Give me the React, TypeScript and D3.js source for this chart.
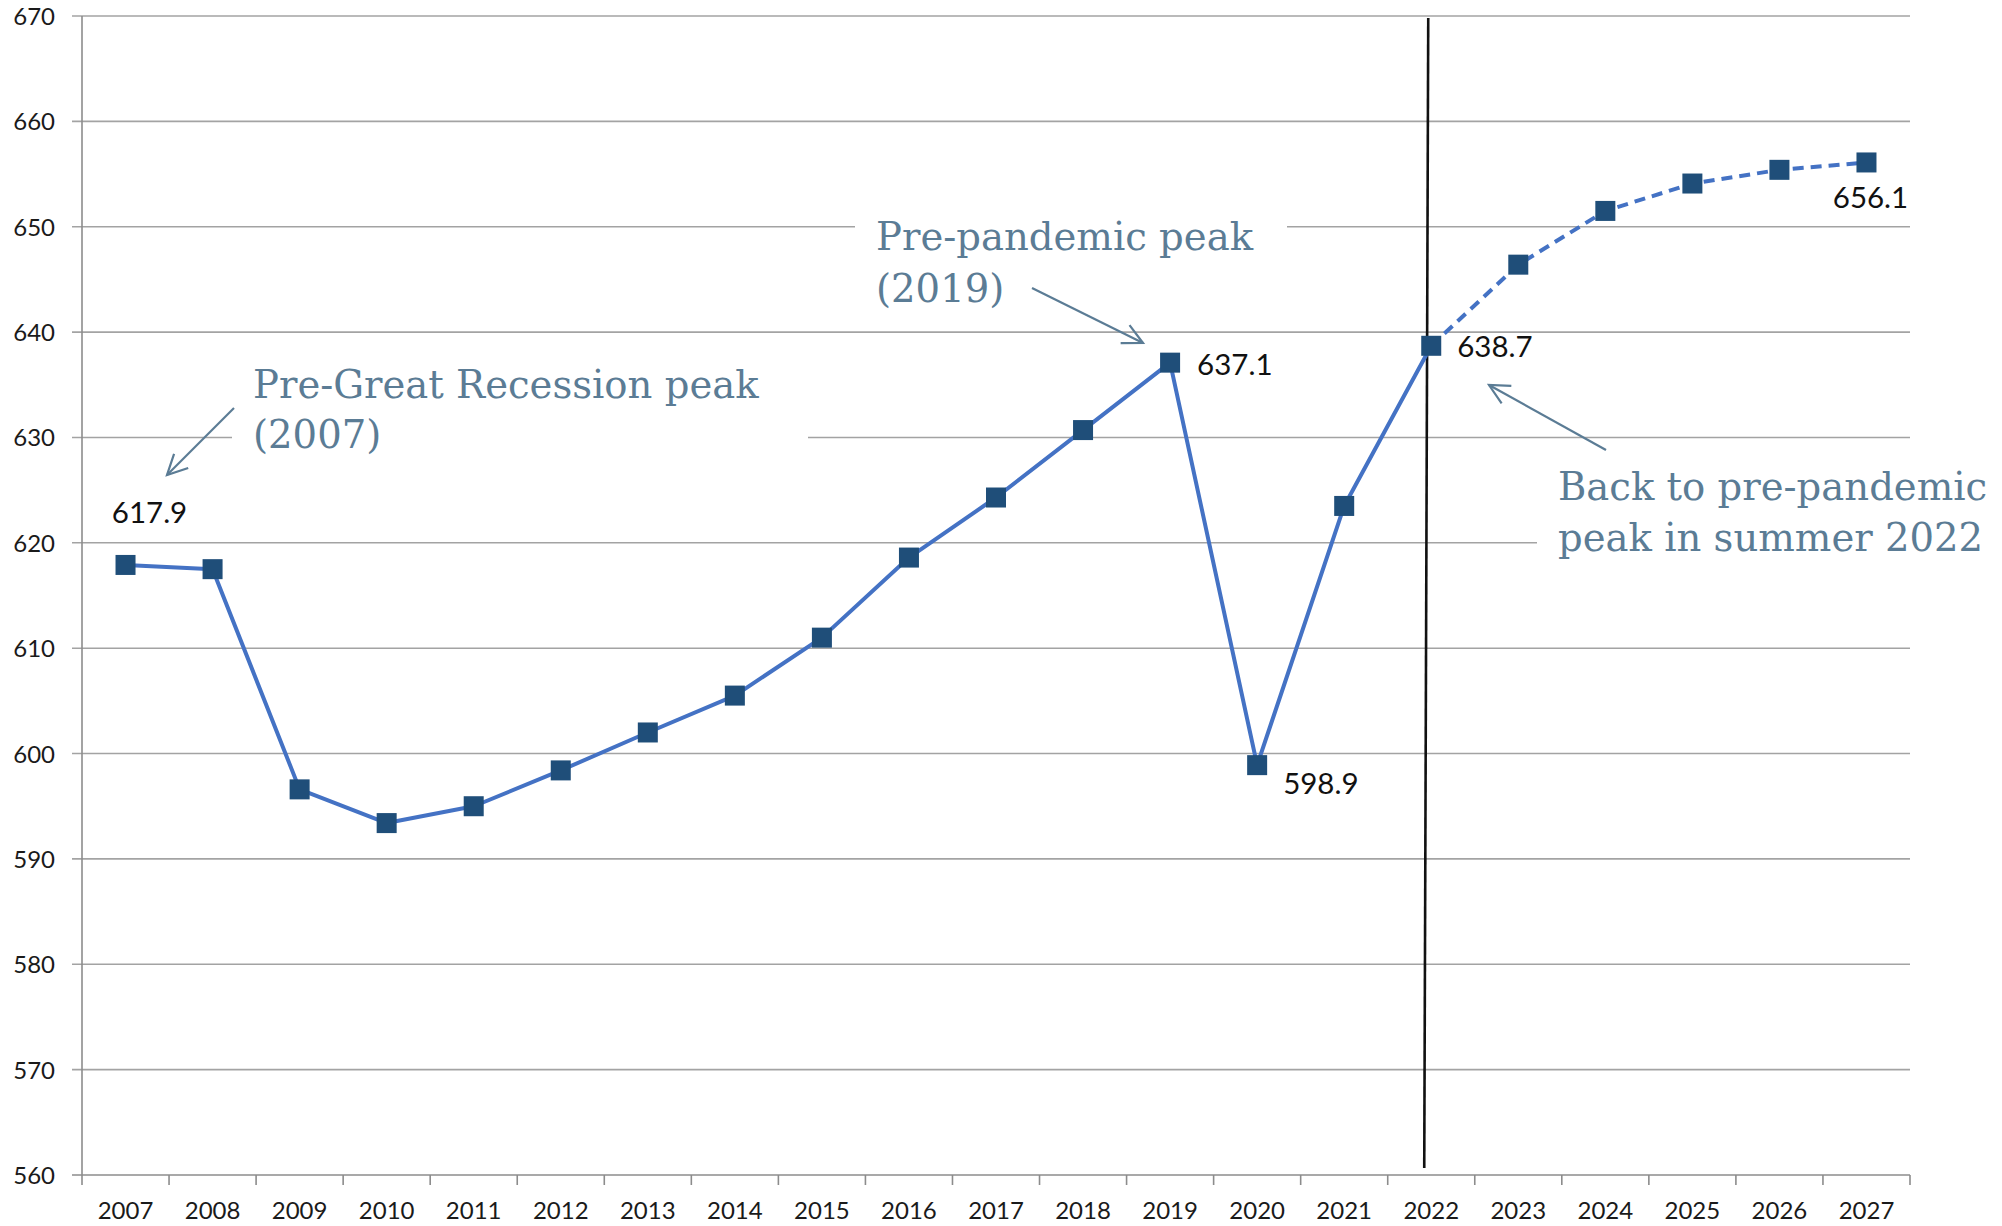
import React from "react";
import * as d3 from "d3";

const years = ["2007","2008","2009","2010","2011","2012","2013","2014","2015","2016","2017","2018","2019","2020","2021","2022","2023","2024","2025","2026","2027"];
const values = [617.9, 617.5, 596.6, 593.4, 595.0, 598.4, 602.0, 605.5, 611.0, 618.6, 624.3, 630.7, 637.1, 598.9, 623.5, 638.7, 646.4, 651.5, 654.1, 655.4, 656.1];
const yTicks = [560, 570, 580, 590, 600, 610, 620, 630, 640, 650, 660, 670];
const forecastStart = "2022";
const labeled = [
  { year: "2007", text: "617.9", dx: 24, dy: -42, anchor: "middle" },
  { year: "2019", text: "637.1", dx: 27, dy: 12, anchor: "start" },
  { year: "2020", text: "598.9", dx: 26, dy: 29, anchor: "start" },
  { year: "2022", text: "638.7", dx: 26, dy: 11, anchor: "start" },
  { year: "2027", text: "656.1", dx: 4, dy: 46, anchor: "middle" },
];

const W = 2002, H = 1226;
const L = 82, R = 1910, T = 16, B = 1175;

export default function App() {
  const x = d3.scaleBand<string>().domain(years).range([L, R]);
  const y = d3.scaleLinear().domain([560, 670]).range([B, T]);
  const cx = (yr: string) => (x(yr) as number) + x.bandwidth() / 2;
  const pts = years.map((yr, i) => ({ yr, v: values[i] }));
  const line = d3.line<{ yr: string; v: number }>().x(d => cx(d.yr)).y(d => y(d.v));
  const fi = years.indexOf(forecastStart);
  const solid = pts.slice(0, fi + 1);
  const dashed = pts.slice(fi);
  const annColor = "#5B7C95";
  const serif = "'DejaVu Serif', serif";
  const sans = "Lato, 'Open Sans', sans-serif";
  const vx = cx(forecastStart);
  const boundaries = years.map(yr => x(yr) as number).concat([R]);

  return (
    <svg width={W} height={H} style={{ position: "absolute", left: 0, top: 0 }} xmlns="http://www.w3.org/2000/svg">
      <defs>
        <marker id="arr" markerUnits="userSpaceOnUse" markerWidth="40" markerHeight="40" refX="0" refY="0" viewBox="-30 -20 40 40" orient="auto">
          <path d="M -20 -10 L 0 0 L -20 10" fill="none" stroke={annColor} strokeWidth={2.2} />
        </marker>
      </defs>
      <rect x={0} y={0} width={W} height={H} fill="#fff" />
      {yTicks.filter(t => t > 560).map(t => (
        <line key={t} x1={L - 10} x2={R} y1={y(t)} y2={y(t)} stroke="#a3a3a3" strokeWidth={1.6} />
      ))}
      <rect x={232} y={365} width={576} height={100} fill="#fff" />
      <rect x={855} y={205} width={432} height={110} fill="#fff" />
      <rect x={1537} y={465} width={W - 1537} height={105} fill="#fff" />
      <line x1={L} x2={L} y1={T} y2={B} stroke="#8c8c8c" strokeWidth={1.6} />
      <line x1={L - 10} x2={R} y1={B} y2={B} stroke="#8c8c8c" strokeWidth={1.6} />
      {boundaries.map((bx, i) => (
        <line key={i} x1={bx} x2={bx} y1={B} y2={B + 10} stroke="#8c8c8c" strokeWidth={1.6} />
      ))}
      {yTicks.map(t => (
        <text key={t} x={L - 27} y={y(t) + 9} textAnchor="end" fontFamily={sans} fontSize={24} fill="#1a1a1a">{t}</text>
      ))}
      {years.map(yr => (
        <text key={yr} x={cx(yr)} y={1219} textAnchor="middle" fontFamily={sans} fontSize={24} fill="#1a1a1a">{yr}</text>
      ))}
      <line x1={vx - 3} x2={vx - 7} y1={T + 2} y2={B - 7} stroke="#111" strokeWidth={2.6} />
      <path d={line(solid) || ""} fill="none" stroke="#4472C4" strokeWidth={4} strokeLinejoin="round" />
      <path d={line(dashed) || ""} fill="none" stroke="#4472C4" strokeWidth={4} strokeDasharray="11,7" />
      {pts.map(p => (
        <rect key={p.yr} x={cx(p.yr) - 10} y={y(p.v) - 10} width={20} height={20} fill="#1F4E79" />
      ))}
      {labeled.map(l => {
        const i = years.indexOf(l.year);
        return (
          <text key={l.year} x={cx(l.year) + l.dx} y={y(values[i]) + l.dy} textAnchor={l.anchor as any} fontFamily={sans} fontSize={29.5} fill="#111">{l.text}</text>
        );
      })}
      <text fontFamily={serif} fontSize={38.6} fill={annColor}>
        <tspan x={253} y={398}>Pre-Great Recession peak</tspan>
        <tspan x={253} y={448}>(2007)</tspan>
      </text>
      <line x1={234} y1={408} x2={167} y2={475} stroke={annColor} strokeWidth={2.2} markerEnd="url(#arr)" />
      <text fontFamily={serif} fontSize={38.6} fill={annColor}>
        <tspan x={876} y={250}>Pre-pandemic peak</tspan>
        <tspan x={876} y={302}>(2019)</tspan>
      </text>
      <line x1={1032} y1={288} x2={1143} y2={343} stroke={annColor} strokeWidth={2.2} markerEnd="url(#arr)" />
      <text fontFamily={serif} fontSize={38.6} fill={annColor}>
        <tspan x={1558} y={500}>Back to pre-pandemic</tspan>
        <tspan x={1558} y={551}>peak in summer 2022</tspan>
      </text>
      <line x1={1606} y1={450} x2={1489} y2={385} stroke={annColor} strokeWidth={2.2} markerEnd="url(#arr)" />
    </svg>
  );
}
